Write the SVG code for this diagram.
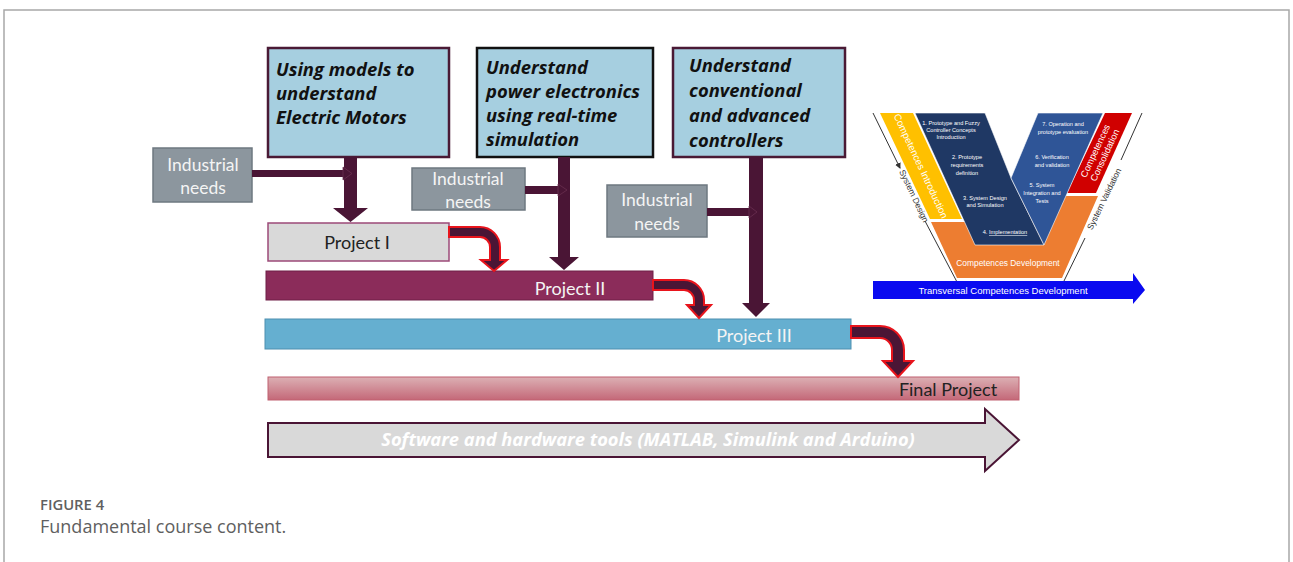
<svg xmlns="http://www.w3.org/2000/svg" width="1293" height="562" viewBox="0 0 1293 562">
<defs>
<style>
.topbox{fill:#a6cfe0;stroke:#4a1a35;stroke-width:2.5}
.ttl{font-family:"Open Sans","Liberation Sans",sans-serif;font-weight:bold;font-style:italic;font-size:18.4px;fill:#111}
.ind{fill:#8c969e;stroke:#6e7880;stroke-width:1.5}
.indt{font-family:Lato,"Liberation Sans",sans-serif;font-size:17.5px;fill:#f4f4f4;text-anchor:middle}
.arw{fill:#4a1535}
.curv{fill:#4a1535;stroke:#e8141c;stroke-width:2;stroke-linejoin:miter}
.pt{font-family:Lato,"Liberation Sans",sans-serif;font-size:18px;text-anchor:middle}
.vs{font-family:"Liberation Sans",Arial,sans-serif;font-size:5.6px;fill:#fff;text-anchor:middle}
.vb{font-family:"Liberation Sans",Arial,sans-serif;fill:#fff;text-anchor:middle}
.sd{font-family:"Liberation Sans",Arial,sans-serif;font-size:8.5px;fill:#333;text-anchor:middle}
</style>
<linearGradient id="gFinal" x1="0" y1="0" x2="0" y2="1">
<stop offset="0" stop-color="#dcb0b4"/>
<stop offset="1" stop-color="#c46878"/>
</linearGradient>
<marker id="mArrow" markerWidth="6" markerHeight="6" refX="5" refY="3" orient="auto" markerUnits="userSpaceOnUse">
<path d="M0,0 L6,3 L0,6 z" fill="#333"/>
</marker>
</defs>
<rect x="0" y="0" width="1293" height="562" fill="#fff"/>
<path d="M4,562 V10 H1289 V562" fill="none" stroke="#a8a8a8" stroke-width="1.5"/>

<g id="box-motors">
<rect class="topbox" x="268" y="48" width="181" height="109"/>
<text class="ttl" x="276" y="76">Using models to</text>
<text class="ttl" x="276" y="100">understand</text>
<text class="ttl" x="276" y="124">Electric Motors</text>
</g>
<g id="box-power">
<rect class="topbox" x="477" y="48" width="176" height="109" style="stroke:#111"/>
<text class="ttl" x="486" y="74">Understand</text>
<text class="ttl" x="486" y="98">power electronics</text>
<text class="ttl" x="486" y="122">using real-time</text>
<text class="ttl" x="486" y="146">simulation</text>
</g>
<g id="box-controllers">
<rect class="topbox" x="673" y="48" width="172" height="109"/>
<text class="ttl" x="689" y="72">Understand</text>
<text class="ttl" x="689" y="97">conventional</text>
<text class="ttl" x="689" y="122">and advanced</text>
<text class="ttl" x="689" y="147">controllers</text>
</g>

<g id="ind1">
<rect class="ind" x="153" y="148" width="99" height="54"/>
<text class="indt" x="203" y="171">Industrial</text>
<text class="indt" x="203" y="194">needs</text>
</g>
<g id="ind2">
<rect class="ind" x="412" y="168" width="113" height="42"/>
<text class="indt" x="468" y="185">Industrial</text>
<text class="indt" x="468" y="208">needs</text>
</g>
<g id="ind3">
<rect class="ind" x="607" y="185" width="100" height="52"/>
<text class="indt" x="657" y="206">Industrial</text>
<text class="indt" x="657" y="230">needs</text>
</g>

<g id="project1">
<rect x="268" y="223" width="181" height="38" fill="#d9d9d9" stroke="#9c4a78" stroke-width="1.5"/>
<text class="pt" x="357" y="249" fill="#222">Project I</text>
</g>
<g id="project2">
<rect x="266" y="271" width="387" height="29" fill="#8b2c5a" stroke="#6e1f47" stroke-width="1"/>
<text class="pt" x="570" y="295" fill="#f4f4f4">Project II</text>
</g>
<g id="project3">
<rect x="265" y="319" width="586" height="30" fill="#65afd0" stroke="#4f8fb0" stroke-width="1"/>
<text class="pt" x="754" y="342" fill="#f4f4f4">Project III</text>
</g>
<g id="final">
<rect x="268" y="377" width="751" height="23" fill="url(#gFinal)" stroke="#c06070" stroke-width="1"/>
<text class="pt" x="948" y="396" fill="#222">Final Project</text>
</g>
<g id="tools">
<path d="M268,423 H985 V409 L1019,440 L985,471 V457 H268 Z" fill="#d9d9d9" stroke="#4a1535" stroke-width="2"/>
<text class="ttl" x="648" y="446" text-anchor="middle" style="fill:#fff;font-size:18.3px">Software and hardware tools (MATLAB, Simulink and Arduino)</text>
</g>

<g id="connectors">
<path class="arw" d="M344,157 H357 V208 H368 L350.5,222 L333,208 H344 Z"/>
<path class="arw" d="M252,170 H344 V177 H252 Z"/>
<path d="M343,167 L352,173.5 L343,180 Z" fill="#4a1535" stroke="#6a3050" stroke-width="0.8"/>
<path class="arw" d="M558,157 H570 V257 H579 L564,270 L549,257 H558 Z"/>
<path class="arw" d="M525,186 H558 V194 H525 Z"/>
<path d="M558,184 L567,190 L558,196 Z" fill="#4a1535" stroke="#6a3050" stroke-width="0.8"/>
<path class="arw" d="M749,157 H763 V303 H770 L756,317 L742,303 H749 Z"/>
<path class="arw" d="M707,208 H749 V216 H707 Z"/>
<path d="M749,206 L757,212 L749,218 Z" fill="#4a1535" stroke="#6a3050" stroke-width="0.8"/>
<path class="curv" d="M449,227 H480 A20,20 0 0 1 500,247 V260 H507 L494,271 L481,260 H490 V247 A10,10 0 0 0 480,237 H449 Z"/>
<path class="curv" d="M653,280 H684 A20,20 0 0 1 704,300 V305 H711 L699,318 L687,305 H694 V300 A10,10 0 0 0 684,290 H653 Z"/>
<path class="curv" d="M851,326 H880 A24,24 0 0 1 904,350 V361 H913 L898,377 L883,361 H892 V350 A12,12 0 0 0 880,338 H851 Z"/>
</g>

<g id="vmodel">
<polygon points="931,222 1000,222 1000,196 1098,196 1062,278 957,278" fill="#ed7d31"/>
<polygon points="880,113 913,113 962,219 930,219" fill="#ffc000"/>
<polygon points="1105,113 1132,113 1096,193 1067,193" fill="#d00000"/>
<polygon points="915,113 985,113 1011,178 1044,245 975,245" fill="#1f3864" stroke="#fff" stroke-width="0.6"/>
<polygon points="1038,113 1103,113 1044,245 1011,178" fill="#2f5597" stroke="#fff" stroke-width="0.6"/>
<text class="vb" font-size="9.8" transform="translate(921,166) rotate(64.8)" dy="3.5">Competences Introduction</text>
<text class="vb" font-size="9.3" transform="translate(1100,153) rotate(-65)"><tspan x="0" dy="-2">Competences</tspan><tspan x="0" dy="10.5">Consolidation</tspan></text>
<text class="vs" x="951" y="125">1. Prototype and Fuzzy</text>
<text class="vs" x="951" y="132">Controller Concepts</text>
<text class="vs" x="951" y="139">Introduction</text>
<text class="vs" x="967" y="159">2. Prototype</text>
<text class="vs" x="967" y="167">requirements</text>
<text class="vs" x="967" y="175">definition</text>
<text class="vs" x="985" y="200">3. System Design</text>
<text class="vs" x="985" y="207">and Simulation</text>
<text class="vs" x="1005" y="234" font-size="6.5">4. <tspan text-decoration="underline">Implementation</tspan></text>
<text class="vs" x="1063" y="126">7. Operation and</text>
<text class="vs" x="1063" y="134">prototype evaluation</text>
<text class="vs" x="1052" y="159">6. Verification</text>
<text class="vs" x="1052" y="167">and validation</text>
<text class="vs" x="1042" y="187">5. System</text>
<text class="vs" x="1042" y="195">Integration and</text>
<text class="vs" x="1042" y="203">Tests</text>
<text class="vb" x="1008" y="266" font-size="8.4">Competences Development</text>
<line x1="873" y1="113" x2="900" y2="168" stroke="#333" stroke-width="1" marker-end="url(#mArrow)"/>
<line x1="925" y1="221" x2="957" y2="282" stroke="#333" stroke-width="1"/>
<text class="sd" transform="translate(914,196) rotate(64.8)" dy="3">System Design</text>
<line x1="1142" y1="113" x2="1121" y2="160" stroke="#333" stroke-width="1"/>
<line x1="1085" y1="238" x2="1063" y2="283" stroke="#333" stroke-width="1"/>
<text class="sd" transform="translate(1104,199) rotate(-64)" dy="3">System Validation</text>
<path d="M873,281 H1133 V273 L1145,290 L1133,304 V299 H873 Z" fill="#0a0af0"/>
<text class="vb" x="1003" y="294" font-size="9.5">Transversal Competences Development</text>
</g>

<g id="caption">
<text x="40" y="510" font-family="'Open Sans','Noto Sans',sans-serif" font-size="14.8" font-weight="600" fill="#606060">FIGURE 4</text>
<text x="40" y="533" font-family="'Open Sans','Noto Sans',sans-serif" font-size="18" fill="#606060">Fundamental course content.</text>
</g>
</svg>
